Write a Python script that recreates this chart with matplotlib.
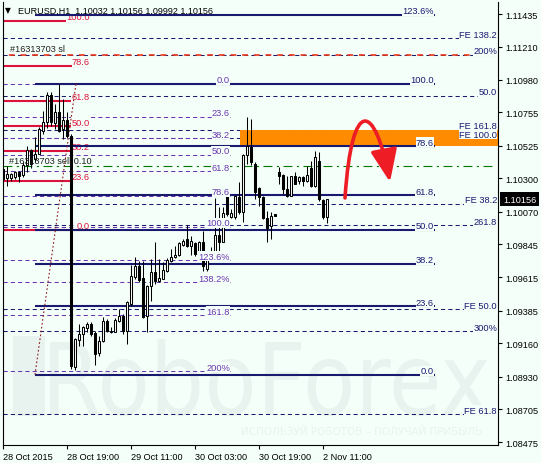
import numpy as np
import matplotlib
matplotlib.use("Agg")
import matplotlib.pyplot as plt
from matplotlib.patches import Rectangle, FancyArrowPatch, PathPatch
from matplotlib.path import Path
from matplotlib.textpath import TextPath
from matplotlib.font_manager import FontProperties
from matplotlib.transforms import Affine2D, blended_transform_factory

plt.rcParams['font.family'] = ['Liberation Sans', 'DejaVu Sans']

# EURUSD H1, 28 Oct 2015 03:00 -> 2 Nov 2015 12:00
opens = [1.10364, 1.10302, 1.10302, 1.10307, 1.10341, 1.10323, 1.10392, 1.10496, 1.10433, 1.10468,
         1.10629, 1.10687, 1.10876, 1.10680, 1.10756, 1.10641, 1.10705, 1.10592, 1.08994, 1.09185,
         1.09224, 1.09264, 1.09293, 1.09231, 1.09093, 1.09178, 1.09312, 1.09238, 1.09240, 1.09316,
         1.09351, 1.09247, 1.09431, 1.09616, 1.09692, 1.09609, 1.09346, 1.09558, 1.09655, 1.09592,
         1.09604, 1.09662, 1.09731, 1.09754, 1.09770, 1.09839, 1.09881, 1.09834, 1.09853, 1.09784,
         1.09858, 1.09673, 1.09777, 1.09754, 1.09908, 1.09862, 1.10180, 1.10031, 1.10031, 1.10169,
         1.10065, 1.10461, 1.10514, 1.10399, 1.10231, 1.10169, 1.10024, 1.09968, 1.10053, 1.10346,
         1.10323, 1.10226, 1.10180, 1.10314, 1.10283, 1.10307, 1.10283, 1.10369, 1.10249, 1.10422,
         1.10150, 1.10032]
highs = [1.10383, 1.10383, 1.10335, 1.10353, 1.10353, 1.10411, 1.10525, 1.10503, 1.10583, 1.10652,
         1.10767, 1.10894, 1.10894, 1.10814, 1.10952, 1.10848, 1.10756, 1.10606, 1.09194, 1.09293,
         1.09281, 1.09309, 1.09305, 1.09247, 1.09212, 1.09340, 1.09328, 1.09270, 1.09333, 1.09397,
         1.09362, 1.09454, 1.09701, 1.09756, 1.09731, 1.09731, 1.09563, 1.09742, 1.09858, 1.09742,
         1.09720, 1.09747, 1.09811, 1.09834, 1.09858, 1.09881, 1.09977, 1.09899, 1.09858, 1.09869,
         1.09938, 1.09789, 1.09823, 1.10162, 1.10100, 1.10100, 1.10185, 1.10088, 1.10185, 1.10272,
         1.10468, 1.10722, 1.10710, 1.10411, 1.10238, 1.10176, 1.10076, 1.10069, 1.10053, 1.10376,
         1.10330, 1.10318, 1.10318, 1.10346, 1.10318, 1.10314, 1.10383, 1.10422, 1.10491, 1.10480,
         1.10157, 1.10156]
lows = [1.10254, 1.10245, 1.10283, 1.10295, 1.10272, 1.10311, 1.10341, 1.10369, 1.10415, 1.10465,
        1.10606, 1.10646, 1.10664, 1.10641, 1.10622, 1.10572, 1.10576, 1.08982, 1.08977, 1.09143,
        1.09143, 1.09236, 1.09208, 1.09010, 1.09074, 1.09171, 1.09240, 1.09231, 1.09236, 1.09309,
        1.09224, 1.09155, 1.09420, 1.09604, 1.09581, 1.09333, 1.09236, 1.09454, 1.09570, 1.09581,
        1.09601, 1.09650, 1.09720, 1.09747, 1.09765, 1.09834, 1.09823, 1.09770, 1.09765, 1.09765,
        1.09662, 1.09662, 1.09742, 1.09747, 1.09800, 1.09858, 1.10042, 1.10024, 1.10019, 1.10053,
        1.09996, 1.10399, 1.10392, 1.10157, 1.10111, 1.10019, 1.09862, 1.09881, 1.10042, 1.10261,
        1.10192, 1.10169, 1.10176, 1.10257, 1.10261, 1.10249, 1.10272, 1.10238, 1.10238, 1.10145,
        1.10019, 1.09992]
closes = [1.10295, 1.10330, 1.10330, 1.10346, 1.10318, 1.10392, 1.10496, 1.10399, 1.10468, 1.10641,
          1.10687, 1.10876, 1.10687, 1.10756, 1.10629, 1.10705, 1.10594, 1.09003, 1.09190, 1.09224,
          1.09270, 1.09293, 1.09224, 1.09086, 1.09178, 1.09312, 1.09247, 1.09247, 1.09321, 1.09351,
          1.09247, 1.09443, 1.09623, 1.09696, 1.09599, 1.09340, 1.09554, 1.09650, 1.09592, 1.09609,
          1.09668, 1.09735, 1.09754, 1.09770, 1.09853, 1.09869, 1.09834, 1.09869, 1.09777, 1.09858,
          1.09696, 1.09777, 1.09747, 1.09908, 1.09858, 1.10060, 1.10053, 1.10060, 1.10176, 1.10065,
          1.10461, 1.10525, 1.10411, 1.10203, 1.10169, 1.10026, 1.09955, 1.10038, 1.10042, 1.10318,
          1.10226, 1.10180, 1.10314, 1.10261, 1.10307, 1.10283, 1.10323, 1.10249, 1.10445, 1.10157,
          1.10031, 1.10156]

time_ticks = [0, 16, 32, 48, 64, 80]
time_labels = ['28 Oct 2015', '28 Oct 19:00', '29 Oct 11:00', '30 Oct 03:00', '30 Oct 19:00', '2 Nov 11:00']
price_ticks = [1.11435, 1.11210, 1.10980, 1.10755, 1.10525, 1.10300, 1.10070,
               1.09845, 1.09615, 1.09385, 1.09160, 1.08930, 1.08705, 1.08475]
last_price = 1.10156
title = 'EURUSD,H1  1.10032 1.10156 1.09992 1.10156'

# fibonacci grids
red_fib_labels = ['100.0', '78.6', '61.8', '50.0', '38.2', '23.6', '0.0']
red_fib_prices = [1.11387, 1.11078, 1.10836, 1.10661, 1.10491, 1.10283, 1.09945]
navy_fib_labels = ['123.6%', '100.0', '78.6', '61.8', '50.0', '38.2', '23.6', '0.0']
navy_fib_prices = [1.11430, 1.10954, 1.10520, 1.10181, 1.09945, 1.09710, 1.09414, 1.08943]
violet_fib_labels = ['0.0', '23.6', '38.2', '50.0', '61.8', '78.6', '100.0', '123.6%', '138.2%', '161.8', '200%']
violet_fib_prices = [1.10954, 1.10726, 1.10576, 1.10461, 1.10350, 1.10179, 1.09965, 1.09733, 1.09583, 1.09353, 1.08966]
exp_labels = ['FE 138.2', '200%', '50.0', 'FE 161.8', 'FE 100.0', 'FE 38.2', '261.8', 'FE 50.0', '300%', 'FE 61.8']
exp_prices = [1.11267, 1.11152, 1.10871, 1.10634, 1.10578, 1.10125, 1.09975, 1.09394, 1.09242, 1.08669]

sell_price = 1.10385
sl_price = 1.11152
zone_top, zone_bottom = 1.10634, 1.10520
trend_x = [8, 18.25]
trend_y = [1.08943, 1.10954]
arrow_x = [85.5, 87.25, 93.0, 96.75]
arrow_y = [1.10164, 1.10883, 1.10813, 1.10274]

BG = '#F5FFFA'
WM = '#E8F3EF'
NAVY = '#191970'
RED = '#DC143C'
VIOLET = '#6A36B0'

fig = plt.figure(figsize=(5.41, 4.64), dpi=100, facecolor=BG)
ax = fig.add_axes([3 / 541, 18 / 464, 495 / 541, 443 / 464])
ax.set_facecolor('none')
ax.set_xlim(0, 123.75)
ax.set_ylim(1.08457, 1.11518)

# watermark
tp = TextPath((0, 0), 'RoboForex', size=100, prop=FontProperties(family='DejaVu Sans'))
bb = tp.get_extents()
tr = Affine2D().translate(-bb.x0, -bb.y0).scale(438 / bb.width, 77 / bb.height).translate(50, 47)
fig.add_artist(PathPatch(tp, transform=tr, facecolor=WM, edgecolor='none', zorder=-5))
fig.add_artist(Rectangle((13, 47), 32, 80, transform=Affine2D(), facecolor=WM, edgecolor='none', zorder=-5))
fig.text(362 / 541, (464 - 432) / 464, 'ИСПОЛЬЗУЙ РОБОТОВ – ПОЛУЧАЙ ПРИБЫЛЬ', color=WM,
         fontsize=7.5, ha='center', va='center', family=['DejaVu Sans'], zorder=-5)

dash = (0, (4, 3))


def label(txt, x, y, color, z=6):
    ax.annotate(txt, xy=(x, y), xytext=(0, 1.5), textcoords='offset pixels', ha='right',
                va='baseline', fontsize=6.7, color=color, zorder=z,
                bbox=dict(boxstyle='square,pad=0.05', facecolor=BG, edgecolor='none'))


# full-width expansion lines
for p, t in zip(exp_prices, exp_labels):
    ax.hlines(p, 0, 123.75, color=NAVY, lw=0.75, linestyle=dash, zorder=1)
    label(t, 123.5, p, NAVY)
ax.hlines(sl_price, 0, 123.75, color='#E8361C', lw=1.2, linestyle=(3.5, (3.5, 3.5)), zorder=1.5)

for p, t in zip(violet_fib_prices, violet_fib_labels):
    ax.hlines(p, 0, 56.75, color=VIOLET, lw=0.75, linestyle=dash, zorder=1)
    label(t, 56.75, p, VIOLET)

ax.add_patch(Rectangle((59.25, zone_bottom), 123.75 - 59.25, zone_top - zone_bottom,
                       facecolor='#FF8C00', edgecolor='none', zorder=2))

for p, t in zip(red_fib_prices, red_fib_labels):
    ax.hlines(p, 0, 21.75, color=RED, lw=1.5, zorder=2.5)
    label(t, 21.75, p, RED, z=2.55)

for p, t in zip(navy_fib_prices, navy_fib_labels):
    ax.hlines(p, 8, 108, color=NAVY, lw=1.5, zorder=2.6)
    label(t, 107.75, p, NAVY)

ax.hlines(sell_price, 0, 122.5, color='#007800', lw=0.8, linestyle=(0, (8, 4, 2, 4)), zorder=2.7)
ax.plot(trend_x, trend_y, color='#8B1A1A', lw=0.8, linestyle=(0, (1.5, 2)), zorder=2.8)

# candles
x = np.arange(len(opens))
o, h, l, c = map(np.array, (opens, highs, lows, closes))
up = c >= o
ax.vlines(x, l, h, color='black', lw=0.75, zorder=4)
ax.bar(x, np.abs(c - o), bottom=np.minimum(o, c), width=0.55,
       color=np.where(up, 'white', 'black'), edgecolor='black', linewidth=0.75, zorder=5)

# forecast arrow
arrow_path = Path(list(zip(arrow_x, arrow_y)), [Path.MOVETO, Path.CURVE4, Path.CURVE4, Path.CURVE4])
ax.add_patch(FancyArrowPatch(path=arrow_path, arrowstyle='-|>,head_length=1.1,head_width=0.45',
                             mutation_scale=18, color='#EE1C25', lw=2.6, zorder=7,
                             shrinkA=0, shrinkB=0))

ax.text(1.75, 1.11200, '#16313703 sl', fontsize=6.6, color='#202020', va='center', zorder=6)
ax.text(1.5, 1.10423, '#16313703 sell 0.10', fontsize=6.6, color='#202020', va='center', zorder=6)

fig.text(5 / 541, (464 - 11) / 464, '▼', fontsize=5.5, va='center', family=['DejaVu Sans'])
fig.text(18 / 541, (464 - 11) / 464, title, fontsize=6.5, va='center')

# axes
ax.yaxis.tick_right()
ax.set_yticks(price_ticks)
ax.set_yticklabels([f'{p:.5f}' for p in price_ticks])
ax.set_xticks(time_ticks)
ax.set_xticklabels(time_labels, ha='left')
ax.tick_params(axis='both', length=3, width=0.8, pad=2, labelsize=6.6, colors='black')
for s in ax.spines.values():
    s.set_linewidth(0.8)
    s.set_color('black')
ax.spines['top'].set_visible(False)

bt = blended_transform_factory(ax.transAxes, ax.transData)
ax.text(1.0101, last_price, f'{last_price:.5f}', transform=bt, fontsize=6.6, color='white',
        va='center', ha='left', zorder=8, clip_on=False,
        bbox=dict(boxstyle='square,pad=0.3', facecolor='black', edgecolor='none'))

fig.savefig('out.png', dpi=100, facecolor=BG)
